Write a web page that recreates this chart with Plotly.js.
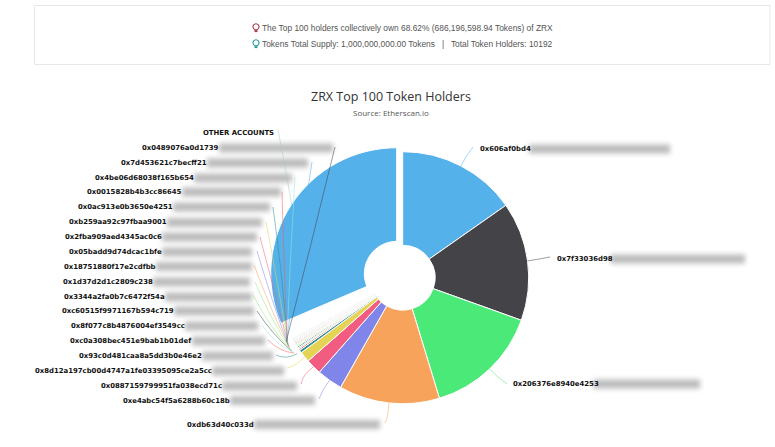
<!DOCTYPE html>
<html><head><meta charset="utf-8">
<script src="https://cdn.plot.ly/plotly-3.0.1.min.js"></script>
<style>html,body{margin:0;padding:0;background:#fff}#c{width:775px;height:447px}</style>
</head><body><div id="c"></div>
<script>
// Data (percent of total supply, clockwise from 12 o'clock)
const holders = ["0x606af0bd4","0x7f33036d98","0x206376e8940e4253","0xdb63d40c033d","0xe4abc54f5a6288b60c18b","0x0887159799951fa038ecd71c","0x8d12a197cb00d4747a1fe03395095ce2a5cc","0x93c0d481caa8a5dd3b0e46e2","0xc0a308bec451e9bab1b01def","0x8f077c8b4876004ef3549cc","0xc60515f9971167b594c719","0x3344a2fa0b7c6472f54a","0x1d37d2d1c2809c238","0x18751880f17e2cdfbb","0x05badd9d74dcac1bfe","0x2fba909aed4345ac0c6","0xb259aa92c97fbaa9001","0x0ac913e0b3650e4251","0x0015828b4b3cc86645","0x4be06d68038f165b654","0x7d453621c7becff21","0x0489076a0d1739","Remaining holders","OTHER ACCOUNTS"];
const shares = [15.25,15.2,14.8,12.9,3.3,2.0,1.36,0.36,0.2,0.18,0.17,0.16,0.15,0.14,0.13,0.12,0.11,0.1,0.09,0.09,0.08,0.08,1.55,31.38];
const sliceColors = ["#55b1ea","#434348","#4be978","#f7a35c","#8085e9","#f15c80","#e4d354","#2b908f","#f45b5b","#91e8e1","#434348","#90ed7d","#90ed7d","#f7a35c","#8085e9","#f15c80","#e4d354","#2b908f","#f45b5b","#91e8e1","#55b1ea","#434348","#ffffff","#55b1ea"];
const pulled = "OTHER ACCOUNTS";

// Layout (pixels)
const W=775,H=447, CX=402.7, CY=277.7, R=126, PULL=0.057;
const box=R*(1+PULL);
const px=x=>x/W, py=y=>1-y/H;
// text anchor x, baseline-centre y, side, blur end x, leader end x,y, bend x,y, rim radius
const labelSpots = [
 [480,149,"l",670,473,147,466,156,R],
 [557,259,"l",745,550,257,540,259,R],
 [513,384,"l",700,507,384,498,378,R],
 [254,424.5,"r",380,384,423,388,422,R],
 [230,400.5,"r",315,319,399,322,390,R],
 [222,386,"r",297,301,384,303,374,R],
 [212,371,"r",284,287,368,296,366,R],
 [202,356,"r",273,276,355,286,360,R+4],
 [192,341,"r",265,268,340,280,352,R+6],
 [185,326,"r",258,262,325,276,346,R+6],
 [174,311,"r",254,257,311,272,334,R+7],
 [165,297,"r",252,253,295,270,328,R+7],
 [153,282,"r",250,255,282,272,322,R+7],
 [156,266.5,"r",252,254,265,274,318,R+7],
 [162,252,"r",252,257,251,276,314,R+7],
 [162,237,"r",257,260,237,278,305,R+7],
 [167,222.5,"r",262,266,222,280,295,R+7],
 [173,207,"r",270,273,207,283,280,R+7],
 [182,192,"r",281,282,192,284,270,R+7],
 [194,178,"r",292,295,177,290,260,R+7],
 [207,163,"r",308,312,162,300,240,R+7],
 [219,148,"r",333,335,147,311,245,R+7],
 null,
 [274,133,"r",null,278,130,284,160,R]
];

const total=shares.reduce((a,b)=>a+b,0);
let cum=0;
const mids=shares.map(v=>{const m=(cum+v/2)/total*2*Math.PI;cum+=v;return m;});

const shapes=[], annotations=[];
const bar=(x0,x1,y,h,col,op)=>shapes.push({type:"rect",xref:"paper",yref:"paper",x0:px(x0),x1:px(x1),y0:py(y+h/2),y1:py(y-h/2),fillcolor:col,opacity:op,line:{width:0},layer:"above"});

// blurred address tails
const FONT_LABEL={family:"DejaVu Sans",size:6.9,color:"#111"};
holders.forEach((h,i)=>{
  const s=labelSpots[i]; if(!s||s[3]===null) return;
  if(s[2]==="r") bar(s[0],s[3],s[1],9,"#999999",0.66);
  else bar(s[0]+h.length*4.45,s[3],s[1],9,"#999999",0.66);
});
const blurCount=shapes.length;

// leader lines
holders.forEach((h,i)=>{
  const s=labelSpots[i]; if(!s) return;
  let ox=0,oy=0;
  if(h===pulled){ox=PULL*R*Math.sin(mids[i]);oy=-PULL*R*Math.cos(mids[i]);}
  const ex=CX+ox+s[8]*Math.sin(mids[i]), ey=CY+oy-s[8]*Math.cos(mids[i]);
  const col=h===pulled?"#a9c9cf":sliceColors[i];
  shapes.push({type:"path",xref:"paper",yref:"paper",layer:"above",opacity:0.75,
    path:`M ${px(s[4])} ${py(s[5])} Q ${px(s[6])} ${py(s[7])} ${px(ex)} ${py(ey)}`,
    line:{color:col,width:0.7}});
  annotations.push({xref:"paper",yref:"paper",x:px(s[0]),y:py(s[1]),text:"<b>"+h+"</b>",showarrow:false,
    xanchor:s[2]==="r"?"right":"left",yanchor:"middle",font:FONT_LABEL,borderpad:0,borderwidth:0});
});

// header card
shapes.push({type:"rect",xref:"paper",yref:"paper",x0:px(34.5),x1:px(770),y0:py(64.5),y1:py(5.5),line:{color:"#e8e8e8",width:1},fillcolor:"rgba(0,0,0,0)",layer:"below"});
const bulb=(x,y,col)=>{
  shapes.push({type:"path",xref:"paper",yref:"paper",layer:"above",line:{color:col,width:1.1},fillcolor:"rgba(0,0,0,0)",
   path:`M ${px(x-1.2)} ${py(y+2.4)} C ${px(x-4.4)} ${py(y)} ${px(x-3)} ${py(y-3.8)} ${px(x)} ${py(y-3.8)} C ${px(x+3)} ${py(y-3.8)} ${px(x+4.4)} ${py(y)} ${px(x+1.2)} ${py(y+2.4)} Z`});
  shapes.push({type:"rect",xref:"paper",yref:"paper",layer:"above",x0:px(x-1.4),x1:px(x+1.4),y0:py(y+4.6),y1:py(y+2.8),fillcolor:col,line:{width:0}});
};
bulb(256,27.5,"#a83246"); bulb(256,43.5,"#1f9a9a");
const headText=(t,y,size,fam,col,x,anchor)=>annotations.push({xref:"paper",yref:"paper",x:px(x),y:py(y),text:t,showarrow:false,xanchor:anchor,yanchor:"middle",font:{family:fam,size:size,color:col},borderpad:0});
headText("The Top 100 holders collectively own 68.62% (686,196,598.94 Tokens) of ZRX",28,8.4,"Liberation Sans","#555",261,"left");
headText("Tokens Total Supply: 1,000,000,000.00 Tokens &nbsp; | &nbsp; Total Token Holders: 10192",44,8.4,"Liberation Sans","#555",261,"left");
headText("ZRX Top 100 Token Holders",96,12.5,"Open Sans","#333",391,"center");
headText("Source: Etherscan.io",112,8,"Open Sans","#555",391,"center");

const trace={type:"pie",labels:holders,values:shares,sort:false,direction:"clockwise",rotation:0,
  hole:0.257,textinfo:"none",hoverinfo:"label+percent",
  pull:holders.map(h=>h===pulled?PULL:0),
  marker:{colors:sliceColors,line:{color:"#ffffff",width:1}},
  domain:{x:[px(CX-box),px(CX+box)],y:[py(CY+box),py(CY-box)]}};

Plotly.newPlot("c",[trace],{width:W,height:H,margin:{l:0,r:0,t:0,b:0},paper_bgcolor:"#fff",showlegend:false,shapes:shapes,annotations:annotations},{displayModeBar:false}).then(()=>{
  document.querySelectorAll(".shapelayer path").forEach(p=>{
    const i=+p.getAttribute("data-index");
    if(i<blurCount) p.style.filter="blur(2.6px)";
  });
});
</script></body></html>
